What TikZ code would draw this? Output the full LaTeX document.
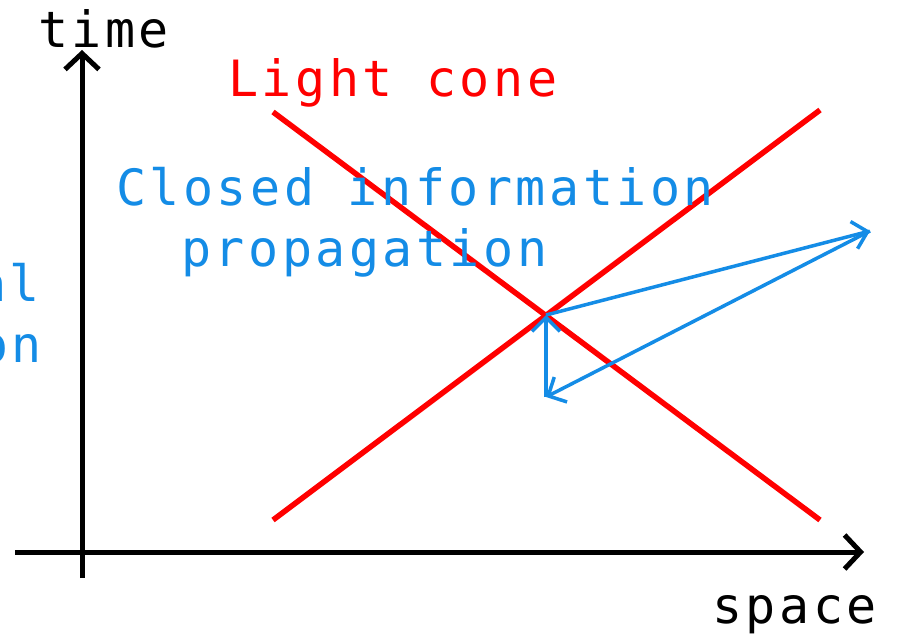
\documentclass[tikz,border=0pt]{standalone}
\usepackage{fontspec}
\setmonofont[LetterSpace=7]{DejaVu Sans Mono}
\usetikzlibrary{arrows.meta}
\definecolor{lightred}{RGB}{255,0,0}
\definecolor{infoblue}{RGB}{20,140,230}
\tikzset{
  axis/.style={line width=5pt, -{Straight Barb[length=16pt,width=34pt,line width=5pt]}},
  cone/.style={line width=5.5pt, lightred},
  info/.style={line width=3.5pt, infoblue, -{Straight Barb[length=14pt,width=28pt,line width=3.5pt]}},
  lbl/.style={inner sep=0pt, anchor=base west, font=\ttfamily\fontsize{50}{60}\selectfont},
}
\begin{document}
\begin{tikzpicture}[x=1pt,y=-1pt]
\useasboundingbox[fill=white] (0,0) rectangle (898,634);
% axes
\coordinate (ybot) at (82,578);
\coordinate (ytop) at (82,50);
\coordinate (xleft) at (15,552);
\coordinate (xright) at (864,552);
\draw[axis] (ybot) -- (ytop);
\draw[axis] (xleft) -- (xright);
% light cone
\coordinate (c1a) at (273,112);
\coordinate (c1b) at (820,520);
\coordinate (c2a) at (273,520);
\coordinate (c2b) at (820,110);
\draw[cone] (c1a) -- (c1b);
\draw[cone] (c2a) -- (c2b);
% labels
\node[lbl] (time) at (38,48) {time};
\node[lbl] (space) at (712,623) {space};
\node[lbl, lightred] (light) at (228,97) {Light cone};
\node[lbl, infoblue] (closed) at (116,205) {Closed information};
\node[lbl, infoblue] (prop) at (181,266) {propagation};
\node[lbl, infoblue, anchor=base east] (al) at (40,301) {al};
\node[lbl, infoblue, anchor=base east] (on) at (42,362) {on};
% information arrows
\coordinate (o) at (546,315);
\coordinate (far) at (870,231);
\coordinate (low) at (546,397);
\draw[info] (o) -- (far);
\draw[info] (far) -- (low);
\draw[info] (low) -- (o);
\end{tikzpicture}
\end{document}
